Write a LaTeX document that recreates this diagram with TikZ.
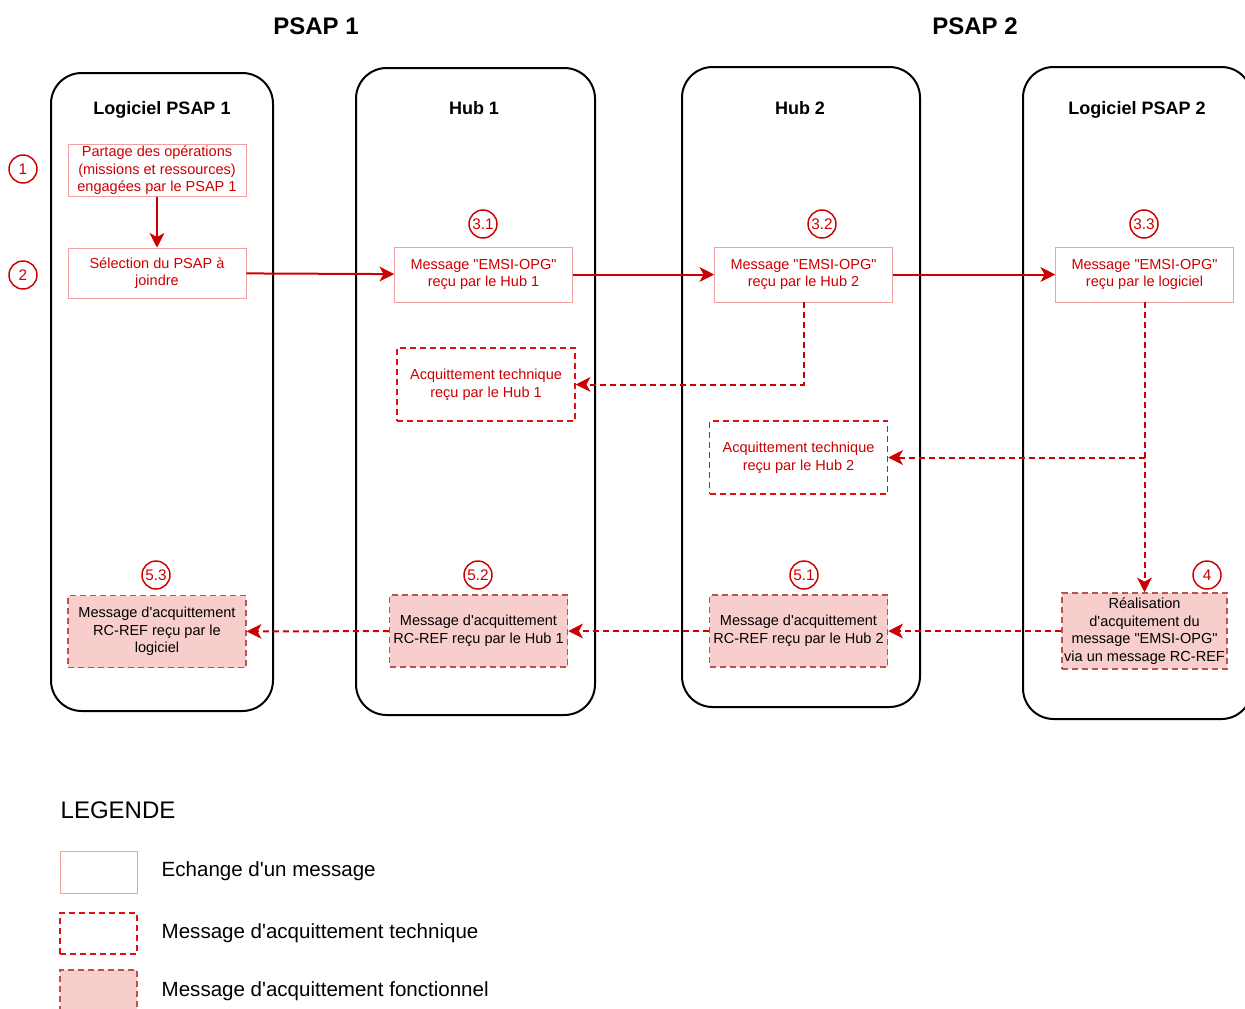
\documentclass[tikz,border=0pt]{standalone}
\usepackage{fontspec}
\setmainfont{Liberation Sans}[Ligatures=TeXOff]
\usetikzlibrary{arrows.meta, positioning}
\definecolor{msgred}{HTML}{CC0000}
\definecolor{msgline}{HTML}{F0A0A0}
\definecolor{ackline}{HTML}{DD1111}
\definecolor{foncfill}{HTML}{F8CECC}
\definecolor{foncline}{HTML}{B85450}

\begin{document}
\begin{tikzpicture}[x=0.75pt, y=-0.75pt,
  lane/.style={draw, line width=1.5pt, rounded corners=23pt, inner sep=0pt},
  title/.style={anchor=base, font=\fontsize{13.5}{16}\selectfont\bfseries},
  head/.style={font=\fontsize{18}{21}\selectfont\bfseries},
  msg/.style={draw=msgline, text=msgred, align=center, inner sep=1pt,
    minimum width=133.5pt, font=\fontsize{10.9}{13.2}\selectfont},
  ack/.style={msg, draw=ackline, line width=1.1pt,
    dash pattern=on 4.5pt off 3pt, minimum height=54.75pt},
  fonc/.style={msg, draw=foncline, fill=foncfill, text=black, line width=1.1pt,
    dash pattern=on 4.5pt off 3pt, minimum height=54pt},
  num/.style={draw=msgred, circle, line width=1.1pt, text=msgred,
    minimum size=21pt, inner sep=0pt, font=\fontsize{11.5}{13}\selectfont},
  arr/.style={-{Stealth[length=11pt, width=11pt, inset=3pt]}, draw=msgred,
    line width=1.5pt},
  darr/.style={arr, dash pattern=on 4.5pt off 3pt},
  leg/.style={anchor=west, font=\fontsize{15.4}{18}\selectfont}
]
  \useasboundingbox (0,0) rectangle (1245,1008);

  \node[head] (h1) at (316,26) {PSAP 1};
  \node[head] (h2) at (975,26) {PSAP 2};

  \foreach \n/\cx/\cy/\w/\h/\tx/\t in {
      l1/162/392/166.5/478.5/162/Logiciel PSAP 1,
      l2/475.5/391.5/179.25/485.25/474/Hub 1,
      l3/801/387/178.5/480/800/Hub 2,
      l4/1137.5/393/171.75/489/1137/Logiciel PSAP 2} {
    \node[lane, minimum width=\w pt, minimum height=\h pt] (\n) at (\cx,\cy) {};
    \node[title] (t\n) at (\tx,114) {\t};
  }

  \node[msg, minimum height=38.25pt] (b1) at (157,170.5)
    {Partage des opérations\\(missions et ressources)\\engagées par le PSAP 1};
  \node[msg, minimum height=37.5pt] (b2) at (157,273)
    {Sélection du PSAP à\\joindre};
  \node[msg, minimum height=41.25pt] (b31) at (483.5,274.5)
    {Message "EMSI-OPG"\\reçu par le Hub 1};
  \node[msg, minimum height=41.25pt] (b32) at (803.5,274.5)
    {Message "EMSI-OPG"\\reçu par le Hub 2};
  \node[msg, minimum height=41.25pt] (b33) at (1144.5,274.5)
    {Message "EMSI-OPG"\\reçu par le logiciel};

  \node[ack] (a1) at (486,384.5) {Acquittement technique\\reçu par le Hub 1};
  \node[ack] (a2) at (798.5,457.5) {Acquittement technique\\reçu par le Hub 2};

  \node[fonc, minimum width=123.75pt, minimum height=57pt] (f4) at (1144.5,631)
    {Réalisation\\d'acquitement du\\message "EMSI-OPG"\\via un message RC-REF};
  \node[fonc] (f51) at (798.5,631) {Message d'acquittement\\RC-REF reçu par le Hub 2};
  \node[fonc] (f52) at (478.5,631) {Message d'acquittement\\RC-REF reçu par le Hub 1};
  \node[fonc] (f53) at (157,631.5) {Message d'acquittement\\RC-REF reçu par le\\logiciel};

  \foreach \n/\x/\y/\lab in {c1/23/169/1, c2/23/275/2, c31/483/224/3.1,
      c32/822/224/3.2, c33/1144/224/3.3, c4/1207/575/4,
      c51/804/575/5.1, c52/478/575/5.2, c53/156/575/5.3}
    \node[num] (\n) at (\x,\y) {\lab};

  \draw[arr] (b1) -- (b2);
  \draw[arr] (b2) -- (b31);
  \draw[arr] (b31) -- (b32);
  \draw[arr] (b32) -- (b33);
  \draw[darr] (b32.south) |- (a1.east);
  \draw[darr] (b33.south) -- (f4.north);
  \coordinate (br) at (b33.south |- a2.east);
  \draw[darr] (br) -- (a2.east);
  \draw[darr] (f4) -- (f51);
  \draw[darr] (f51) -- (f52);
  \draw[darr] (f52) -- (f53);

  \node[anchor=west, font=\fontsize{18}{21}\selectfont] (lg) at (56,810) {LEGENDE};
  \node[msg, minimum width=57.75pt, minimum height=31.5pt] (lg1) at (98.5,872) {};
  \node[ack, minimum width=57.75pt, minimum height=30.75pt] (lg2) at (98.5,933.5) {};
  \node[fonc, minimum width=57.75pt, minimum height=30pt] (lg3) at (98.5,990) {};
  \node[leg] (lt1) at (157,871) {Echange d'un message};
  \node[leg] (lt2) at (157,933) {Message d'acquittement technique};
  \node[leg] (lt3) at (157,991) {Message d'acquittement fonctionnel};
\end{tikzpicture}
\end{document}
